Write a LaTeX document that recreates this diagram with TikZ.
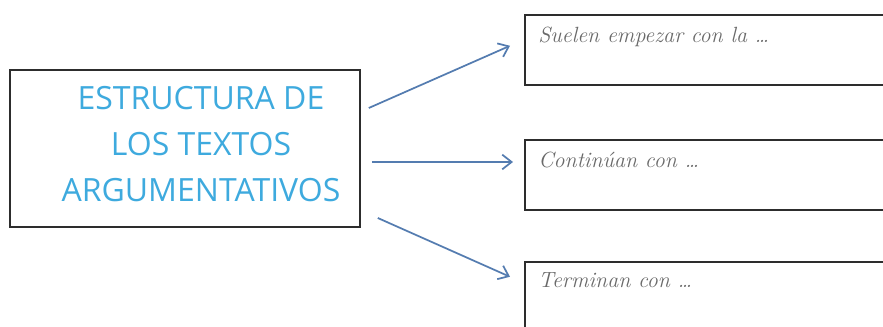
\documentclass[tikz,border=0pt]{standalone}
\usepackage{fontspec}
\newfontfamily\titlefont{Open Sans}
\usetikzlibrary{arrows.meta}
\definecolor{titleblue}{RGB}{62,170,222}
\definecolor{arrowblue}{RGB}{84,124,176}
\definecolor{notegray}{RGB}{105,105,105}
\definecolor{framegray}{RGB}{45,45,45}
\tikzset{
  mainbox/.style={draw=framegray, line width=1.2pt, minimum width=262.5pt, minimum height=117.75pt},
  answerbox/.style={draw=framegray, line width=1.2pt, anchor=north west, minimum width=300pt, minimum height=52.5pt},
  titletext/.style={text=titleblue, font=\titlefont\fontsize{24}{34.5}\selectfont, align=center},
  notetext/.style={text=notegray, font=\itshape\fontsize{16.5}{19}\selectfont, anchor=base west, inner sep=0pt},
  arr/.style={draw=arrowblue, line width=1.3pt, -{Straight Barb[length=7pt,width=11pt]}}
}
\begin{document}
\begin{tikzpicture}[x=0.75pt, y=-0.75pt]
      \useasboundingbox (0,0) rectangle (883,327);
      \clip (0,0) rectangle (883,327);
      \node[mainbox] (main) at (185,148.5) {};
      \node[titletext] (title) at (201,144) {ESTRUCTURA DE\\LOS TEXTOS\\ARGUMENTATIVOS};
      \node[answerbox] (box1) at (524,14) {};
      \node[answerbox] (box2) at (524,139) {};
      \node[answerbox] (box3) at (524,261) {};
      \node[notetext] (note1) at (538,43) {Suelen empezar con la \dots};
      \node[notetext] (note2) at (538,168) {Continúan con \dots};
      \node[notetext] (note3) at (538,288) {Terminan con \dots};
      \coordinate (mid) at ([shift={(11,13.5)}]main.east);
      \begin{scope}[arr]
        \draw ([shift={(8,-40.5)}]main.east) to ([shift={(-14,-4)}]box1.west);
        \draw (mid) to ([xshift=-8.25pt]box2.west |- mid);
        \draw ([shift={(17,69.5)}]main.east) to ([shift={(-14,-20)}]box3.west);
      \end{scope}
    \end{tikzpicture}
\end{document}
